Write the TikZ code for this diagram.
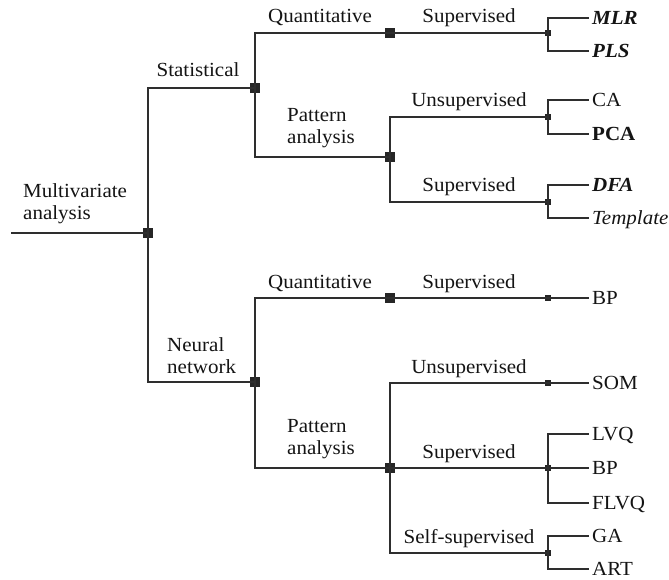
\documentclass[tikz,border=0pt]{standalone}
\usepackage{fontspec}
\setmainfont[FakeStretch=1.05]{Liberation Serif}
\begin{document}
\begin{tikzpicture}[x=1pt,y=-1pt,
  every node/.style={text=black!92},
  wire/.style={line width=1.3pt, draw=black!82},
  bigsq/.style={fill=black!85, draw=none, minimum size=10.5pt, inner sep=0pt},
  smallsq/.style={fill=black!85, draw=none, minimum size=6pt, inner sep=0pt},
  lbl/.style={anchor=base, inner sep=0pt, font=\fontsize{20}{22}\selectfont},
  mlbl/.style={anchor=base west, inner sep=0pt, align=left, font=\fontsize{20}{22}\selectfont},
  leaf/.style={anchor=west, inner sep=0pt, text height=13.2pt, text depth=0pt, font=\fontsize{20}{22}\selectfont}]
\useasboundingbox (0,0) rectangle (669,580);

% junctions
\coordinate (in) at (11,233);
\node[bigsq] (r) at (148,233) {};
\node[bigsq] (st) at (255,88) {};
\node[bigsq] (sq) at (390,33) {};
\node[smallsq] (sqs) at (548,33) {};
\node[bigsq] (sp) at (390,157) {};
\node[smallsq] (spu) at (548,117) {};
\node[smallsq] (sps) at (548,202) {};
\node[bigsq] (nn) at (255,382) {};
\node[bigsq] (nq) at (390,298) {};
\node[smallsq] (nqs) at (548,298) {};
\node[bigsq] (np) at (390,468) {};
\node[smallsq] (npu) at (548,383) {};
\node[smallsq] (nps) at (548,468) {};
\node[smallsq] (npss) at (548,553) {};

% leaves
\node[leaf] (mlr) at (592,18) {\textbf{\textit{MLR}}};
\node[leaf] (pls) at (592,51) {\textbf{\textit{PLS}}};
\node[leaf] (ca) at (592,100) {CA};
\node[leaf] (pca) at (592,134) {\textbf{PCA}};
\node[leaf] (dfa) at (592,185) {\textbf{\textit{DFA}}};
\node[leaf] (tpl) at (592,218) {\textit{Template}};
\node[leaf] (bpa) at (592,298) {BP};
\node[leaf] (som) at (592,383) {SOM};
\node[leaf] (lvq) at (592,434) {LVQ};
\node[leaf] (bpb) at (592,468) {BP};
\node[leaf] (flvq) at (592,503) {FLVQ};
\node[leaf] (ga) at (592,536) {GA};
\node[leaf] (art) at (592,569) {ART};

% branches
\draw[wire] (in) -- (r.center);
\draw[wire] (r.center) |- (st.center);
\draw[wire] (r.center) |- (nn.center);
\draw[wire] (st.center) |- (sq.center);
\draw[wire] (st.center) |- (sp.center);
\draw[wire] (sq.center) -- (sqs.center);
\draw[wire] (sqs.center) |- ([xshift=-3pt]mlr.west);
\draw[wire] (sqs.center) |- ([xshift=-3pt]pls.west);
\draw[wire] (sp.center) |- (spu.center);
\draw[wire] (sp.center) |- (sps.center);
\draw[wire] (spu.center) |- ([xshift=-3pt]ca.west);
\draw[wire] (spu.center) |- ([xshift=-3pt]pca.west);
\draw[wire] (sps.center) |- ([xshift=-3pt]dfa.west);
\draw[wire] (sps.center) |- ([xshift=-3pt]tpl.west);
\draw[wire] (nn.center) |- (nq.center);
\draw[wire] (nn.center) |- (np.center);
\draw[wire] (nq.center) -- (nqs.center);
\draw[wire] (nqs.center) -- ([xshift=-3pt]bpa.west);
\draw[wire] (np.center) |- (npu.center);
\draw[wire] (np.center) -- (nps.center);
\draw[wire] (np.center) |- (npss.center);
\draw[wire] (npu.center) -- ([xshift=-3pt]som.west);
\draw[wire] (nps.center) |- ([xshift=-3pt]lvq.west);
\draw[wire] (nps.center) -- ([xshift=-3pt]bpb.west);
\draw[wire] (nps.center) |- ([xshift=-3pt]flvq.west);
\draw[wire] (npss.center) |- ([xshift=-3pt]ga.west);
\draw[wire] (npss.center) |- ([xshift=-3pt]art.west);

% branch labels (multi-line ones are placed by their last baseline)
\node[mlbl] (lmv) at (23,219) {Multivariate\\analysis};
\node[lbl] (lst) at (198,77) {Statistical};
\node[mlbl] (lnn) at (167,373) {Neural\\network};
\node[lbl] (lsq) at (320,23) {Quantitative};
\node[mlbl] (lsp) at (287,144) {Pattern\\analysis};
\node[lbl] (lsqs) at (469,23) {Supervised};
\node[lbl] (lspu) at (469,107) {Unsupervised};
\node[lbl] (lsps) at (469,192) {Supervised};
\node[lbl] (lnq) at (320,288) {Quantitative};
\node[lbl] (lnqs) at (469,288) {Supervised};
\node[mlbl] (lnp) at (287,454) {Pattern\\analysis};
\node[lbl] (lnpu) at (469,373) {Unsupervised};
\node[lbl] (lnps) at (469,458) {Supervised};
\node[lbl] (lnpss) at (469,543) {Self-supervised};
\end{tikzpicture}
\end{document}
